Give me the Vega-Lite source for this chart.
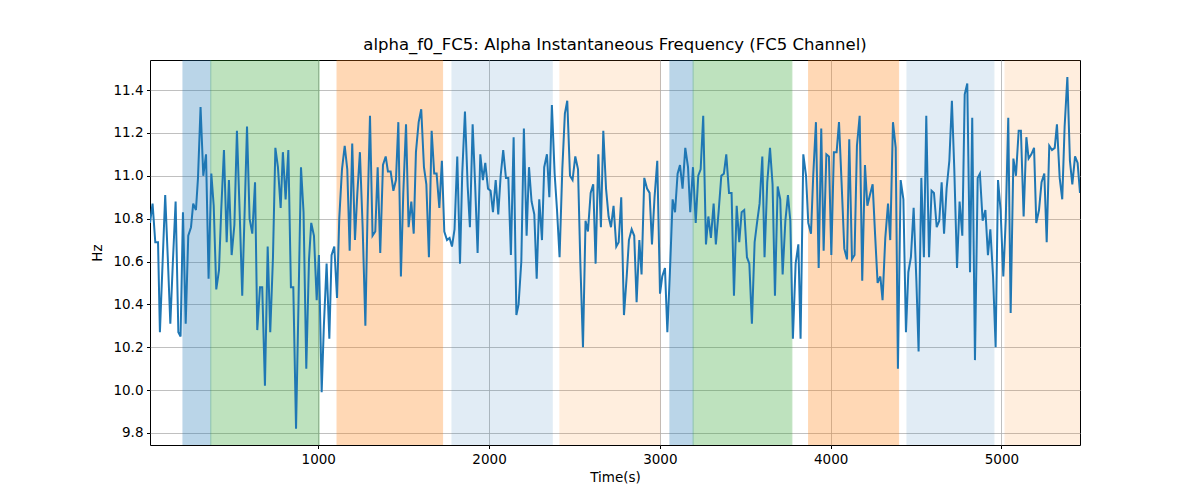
{
  "$schema": "https://vega.github.io/schema/vega-lite/v6.json",
  "autosize": {"type": "none"},
  "width": 930,
  "height": 385,
  "padding": {"left": 150, "top": 60, "right": 120, "bottom": 55},
  "background": "white",
  "title": {
    "text": "alpha_f0_FC5: Alpha Instantaneous Frequency (FC5 Channel)",
    "font": "DejaVu Sans",
    "fontSize": 16.5,
    "fontWeight": "normal",
    "color": "black",
    "anchor": "middle",
    "offset": 7
  },
  "config": {
    "view": {"stroke": "black", "strokeWidth": 1},
    "axis": {
      "domain": false,
      "labelFont": "DejaVu Sans",
      "labelFontSize": 13.5,
      "labelColor": "black",
      "titleFont": "DejaVu Sans",
      "titleFontSize": 13.5,
      "titleFontWeight": "normal",
      "titleColor": "black",
      "tickColor": "black",
      "tickSize": 3.5,
      "labelPadding": 3.5,
      "grid": true,
      "gridColor": "#b0b0b0",
      "gridWidth": 0.8
    }
  },
  "datasets": {
    "bands": [
      {"start": 208, "end": 371, "phase": "a"},
      {"start": 371, "end": 1006, "phase": "b"},
      {"start": 1110, "end": 1728, "phase": "c"},
      {"start": 1783, "end": 2370, "phase": "d"},
      {"start": 2415, "end": 3001, "phase": "e"},
      {"start": 3059, "end": 3195, "phase": "a"},
      {"start": 3195, "end": 3773, "phase": "b"},
      {"start": 3871, "end": 4398, "phase": "c"},
      {"start": 4447, "end": 4956, "phase": "d"},
      {"start": 5021, "end": 5460, "phase": "e"}
    ],
    "series": [
      {"t": 15, "hz": 10.78}, {"t": 30, "hz": 10.87}, {"t": 46, "hz": 10.69}, {"t": 62, "hz": 10.69},
      {"t": 73, "hz": 10.27}, {"t": 89, "hz": 10.60}, {"t": 104, "hz": 10.91}, {"t": 120, "hz": 10.60},
      {"t": 134, "hz": 10.31}, {"t": 149, "hz": 10.60}, {"t": 165, "hz": 10.88}, {"t": 181, "hz": 10.27},
      {"t": 194, "hz": 10.25}, {"t": 208, "hz": 10.83}, {"t": 224, "hz": 10.31}, {"t": 239, "hz": 10.72},
      {"t": 255, "hz": 10.76}, {"t": 268, "hz": 10.87}, {"t": 284, "hz": 10.84}, {"t": 296, "hz": 10.99},
      {"t": 311, "hz": 11.32}, {"t": 327, "hz": 11.00}, {"t": 343, "hz": 11.10}, {"t": 358, "hz": 10.52},
      {"t": 374, "hz": 11.01}, {"t": 388, "hz": 10.86}, {"t": 403, "hz": 10.47}, {"t": 419, "hz": 10.56},
      {"t": 432, "hz": 10.84}, {"t": 448, "hz": 11.12}, {"t": 464, "hz": 10.69}, {"t": 477, "hz": 10.98},
      {"t": 493, "hz": 10.63}, {"t": 509, "hz": 10.77}, {"t": 524, "hz": 11.21}, {"t": 540, "hz": 10.83},
      {"t": 555, "hz": 10.44}, {"t": 569, "hz": 10.83}, {"t": 583, "hz": 11.23}, {"t": 598, "hz": 10.80},
      {"t": 614, "hz": 10.73}, {"t": 630, "hz": 10.97}, {"t": 643, "hz": 10.28}, {"t": 659, "hz": 10.48},
      {"t": 672, "hz": 10.48}, {"t": 688, "hz": 10.02}, {"t": 704, "hz": 10.67}, {"t": 719, "hz": 10.27},
      {"t": 735, "hz": 10.62}, {"t": 749, "hz": 11.13}, {"t": 764, "hz": 11.04}, {"t": 780, "hz": 10.85},
      {"t": 793, "hz": 11.11}, {"t": 809, "hz": 10.89}, {"t": 825, "hz": 11.12}, {"t": 840, "hz": 10.48},
      {"t": 854, "hz": 10.48}, {"t": 870, "hz": 9.82}, {"t": 885, "hz": 10.43}, {"t": 899, "hz": 11.04},
      {"t": 914, "hz": 10.83}, {"t": 930, "hz": 10.10}, {"t": 946, "hz": 10.61}, {"t": 959, "hz": 10.78},
      {"t": 975, "hz": 10.72}, {"t": 991, "hz": 10.42}, {"t": 1004, "hz": 10.63}, {"t": 1020, "hz": 9.99},
      {"t": 1033, "hz": 10.30}, {"t": 1049, "hz": 10.59}, {"t": 1065, "hz": 10.24}, {"t": 1078, "hz": 10.63},
      {"t": 1094, "hz": 10.67}, {"t": 1110, "hz": 10.43}, {"t": 1123, "hz": 10.80}, {"t": 1139, "hz": 11.03},
      {"t": 1155, "hz": 11.14}, {"t": 1170, "hz": 11.03}, {"t": 1184, "hz": 10.65}, {"t": 1199, "hz": 11.15},
      {"t": 1215, "hz": 10.70}, {"t": 1229, "hz": 10.92}, {"t": 1244, "hz": 11.11}, {"t": 1260, "hz": 10.76},
      {"t": 1276, "hz": 10.30}, {"t": 1289, "hz": 10.84}, {"t": 1303, "hz": 11.28}, {"t": 1318, "hz": 10.72},
      {"t": 1334, "hz": 10.74}, {"t": 1348, "hz": 11.04}, {"t": 1363, "hz": 10.64}, {"t": 1379, "hz": 11.05},
      {"t": 1395, "hz": 11.09}, {"t": 1408, "hz": 11.02}, {"t": 1424, "hz": 11.02}, {"t": 1440, "hz": 10.93},
      {"t": 1455, "hz": 10.98}, {"t": 1469, "hz": 11.25}, {"t": 1484, "hz": 10.53}, {"t": 1498, "hz": 10.92},
      {"t": 1514, "hz": 11.24}, {"t": 1529, "hz": 10.76}, {"t": 1545, "hz": 10.88}, {"t": 1559, "hz": 10.73},
      {"t": 1572, "hz": 11.11}, {"t": 1588, "hz": 11.25}, {"t": 1603, "hz": 11.31}, {"t": 1619, "hz": 11.04},
      {"t": 1633, "hz": 10.96}, {"t": 1648, "hz": 10.62}, {"t": 1664, "hz": 11.21}, {"t": 1679, "hz": 11.01},
      {"t": 1693, "hz": 11.01}, {"t": 1709, "hz": 10.85}, {"t": 1724, "hz": 11.07}, {"t": 1738, "hz": 10.74},
      {"t": 1754, "hz": 10.70}, {"t": 1769, "hz": 10.71}, {"t": 1783, "hz": 10.67}, {"t": 1798, "hz": 10.75},
      {"t": 1814, "hz": 11.09}, {"t": 1830, "hz": 10.59}, {"t": 1843, "hz": 11.01}, {"t": 1859, "hz": 11.30},
      {"t": 1875, "hz": 10.95}, {"t": 1888, "hz": 10.76}, {"t": 1904, "hz": 11.24}, {"t": 1919, "hz": 10.95},
      {"t": 1933, "hz": 10.64}, {"t": 1949, "hz": 11.10}, {"t": 1964, "hz": 10.98}, {"t": 1978, "hz": 11.06},
      {"t": 1994, "hz": 10.94}, {"t": 2009, "hz": 10.93}, {"t": 2023, "hz": 10.83}, {"t": 2039, "hz": 10.98},
      {"t": 2054, "hz": 10.82}, {"t": 2068, "hz": 11.00}, {"t": 2083, "hz": 11.12}, {"t": 2099, "hz": 10.99},
      {"t": 2113, "hz": 10.99}, {"t": 2128, "hz": 10.63}, {"t": 2144, "hz": 11.18}, {"t": 2160, "hz": 10.35},
      {"t": 2173, "hz": 10.40}, {"t": 2189, "hz": 10.60}, {"t": 2204, "hz": 11.22}, {"t": 2220, "hz": 10.72},
      {"t": 2234, "hz": 11.04}, {"t": 2249, "hz": 10.88}, {"t": 2265, "hz": 10.82}, {"t": 2279, "hz": 10.52},
      {"t": 2294, "hz": 10.89}, {"t": 2310, "hz": 10.70}, {"t": 2323, "hz": 11.04}, {"t": 2339, "hz": 11.10},
      {"t": 2353, "hz": 10.90}, {"t": 2368, "hz": 11.33}, {"t": 2384, "hz": 11.01}, {"t": 2398, "hz": 10.84},
      {"t": 2413, "hz": 10.62}, {"t": 2429, "hz": 11.03}, {"t": 2444, "hz": 11.29}, {"t": 2458, "hz": 11.35},
      {"t": 2474, "hz": 11.00}, {"t": 2489, "hz": 10.98}, {"t": 2505, "hz": 11.09}, {"t": 2521, "hz": 11.03},
      {"t": 2534, "hz": 10.61}, {"t": 2550, "hz": 10.20}, {"t": 2565, "hz": 10.79}, {"t": 2579, "hz": 10.74},
      {"t": 2595, "hz": 10.92}, {"t": 2610, "hz": 10.96}, {"t": 2624, "hz": 10.59}, {"t": 2640, "hz": 11.10},
      {"t": 2655, "hz": 10.76}, {"t": 2669, "hz": 11.21}, {"t": 2685, "hz": 10.94}, {"t": 2700, "hz": 10.81},
      {"t": 2714, "hz": 10.76}, {"t": 2729, "hz": 10.86}, {"t": 2745, "hz": 10.67}, {"t": 2759, "hz": 10.69},
      {"t": 2774, "hz": 10.90}, {"t": 2790, "hz": 10.35}, {"t": 2806, "hz": 10.53}, {"t": 2819, "hz": 10.70},
      {"t": 2835, "hz": 10.75}, {"t": 2850, "hz": 10.72}, {"t": 2864, "hz": 10.41}, {"t": 2880, "hz": 10.70},
      {"t": 2893, "hz": 10.54}, {"t": 2909, "hz": 10.99}, {"t": 2925, "hz": 10.94}, {"t": 2940, "hz": 10.92},
      {"t": 2954, "hz": 10.68}, {"t": 2969, "hz": 10.90}, {"t": 2985, "hz": 11.07}, {"t": 3001, "hz": 10.45},
      {"t": 3014, "hz": 10.53}, {"t": 3030, "hz": 10.57}, {"t": 3044, "hz": 10.27}, {"t": 3059, "hz": 10.55},
      {"t": 3075, "hz": 10.89}, {"t": 3089, "hz": 10.83}, {"t": 3104, "hz": 11.01}, {"t": 3118, "hz": 11.05},
      {"t": 3133, "hz": 10.94}, {"t": 3149, "hz": 11.13}, {"t": 3165, "hz": 11.04}, {"t": 3178, "hz": 10.83},
      {"t": 3194, "hz": 11.04}, {"t": 3210, "hz": 10.78}, {"t": 3225, "hz": 11.00}, {"t": 3239, "hz": 11.03},
      {"t": 3254, "hz": 11.28}, {"t": 3270, "hz": 10.68}, {"t": 3284, "hz": 10.81}, {"t": 3299, "hz": 10.71},
      {"t": 3315, "hz": 10.87}, {"t": 3328, "hz": 10.68}, {"t": 3344, "hz": 10.83}, {"t": 3360, "hz": 11.00},
      {"t": 3375, "hz": 11.01}, {"t": 3389, "hz": 11.10}, {"t": 3405, "hz": 10.92}, {"t": 3420, "hz": 10.92},
      {"t": 3434, "hz": 10.44}, {"t": 3450, "hz": 10.86}, {"t": 3465, "hz": 10.69}, {"t": 3479, "hz": 10.83},
      {"t": 3494, "hz": 10.84}, {"t": 3510, "hz": 10.62}, {"t": 3524, "hz": 10.59}, {"t": 3539, "hz": 10.31},
      {"t": 3555, "hz": 10.69}, {"t": 3569, "hz": 10.78}, {"t": 3584, "hz": 10.87}, {"t": 3600, "hz": 11.09},
      {"t": 3613, "hz": 10.62}, {"t": 3629, "hz": 10.97}, {"t": 3645, "hz": 11.13}, {"t": 3660, "hz": 10.96},
      {"t": 3674, "hz": 10.44}, {"t": 3690, "hz": 10.95}, {"t": 3705, "hz": 10.89}, {"t": 3719, "hz": 10.54},
      {"t": 3735, "hz": 10.79}, {"t": 3750, "hz": 10.91}, {"t": 3764, "hz": 10.79}, {"t": 3779, "hz": 10.24},
      {"t": 3795, "hz": 10.59}, {"t": 3811, "hz": 10.68}, {"t": 3824, "hz": 10.24}, {"t": 3840, "hz": 11.10},
      {"t": 3856, "hz": 11.00}, {"t": 3869, "hz": 10.78}, {"t": 3885, "hz": 10.73}, {"t": 3898, "hz": 11.00},
      {"t": 3914, "hz": 11.25}, {"t": 3930, "hz": 10.57}, {"t": 3945, "hz": 11.22}, {"t": 3959, "hz": 10.65},
      {"t": 3975, "hz": 11.10}, {"t": 3990, "hz": 11.09}, {"t": 4004, "hz": 10.63}, {"t": 4019, "hz": 11.11},
      {"t": 4035, "hz": 11.11}, {"t": 4049, "hz": 11.25}, {"t": 4064, "hz": 10.97}, {"t": 4080, "hz": 10.66},
      {"t": 4096, "hz": 10.61}, {"t": 4109, "hz": 11.17}, {"t": 4125, "hz": 10.61}, {"t": 4140, "hz": 10.63},
      {"t": 4154, "hz": 11.14}, {"t": 4170, "hz": 11.28}, {"t": 4185, "hz": 10.51}, {"t": 4201, "hz": 11.05},
      {"t": 4215, "hz": 10.86}, {"t": 4230, "hz": 10.91}, {"t": 4246, "hz": 10.96}, {"t": 4260, "hz": 10.73},
      {"t": 4275, "hz": 10.50}, {"t": 4291, "hz": 10.53}, {"t": 4304, "hz": 10.42}, {"t": 4320, "hz": 10.71},
      {"t": 4336, "hz": 10.87}, {"t": 4349, "hz": 10.70}, {"t": 4365, "hz": 11.25}, {"t": 4381, "hz": 11.13},
      {"t": 4394, "hz": 10.10}, {"t": 4410, "hz": 10.98}, {"t": 4426, "hz": 10.89}, {"t": 4441, "hz": 10.27},
      {"t": 4455, "hz": 10.55}, {"t": 4470, "hz": 10.62}, {"t": 4486, "hz": 10.85}, {"t": 4502, "hz": 10.51},
      {"t": 4515, "hz": 10.18}, {"t": 4531, "hz": 10.99}, {"t": 4546, "hz": 10.62}, {"t": 4560, "hz": 11.28},
      {"t": 4576, "hz": 10.62}, {"t": 4591, "hz": 10.93}, {"t": 4605, "hz": 10.92}, {"t": 4621, "hz": 10.76},
      {"t": 4636, "hz": 10.79}, {"t": 4650, "hz": 10.97}, {"t": 4664, "hz": 10.73}, {"t": 4679, "hz": 10.94},
      {"t": 4695, "hz": 11.07}, {"t": 4710, "hz": 11.35}, {"t": 4724, "hz": 11.03}, {"t": 4740, "hz": 10.57},
      {"t": 4755, "hz": 10.88}, {"t": 4771, "hz": 10.72}, {"t": 4785, "hz": 11.38}, {"t": 4800, "hz": 11.43},
      {"t": 4816, "hz": 10.55}, {"t": 4829, "hz": 11.27}, {"t": 4845, "hz": 10.14}, {"t": 4861, "hz": 10.99},
      {"t": 4874, "hz": 11.01}, {"t": 4890, "hz": 10.79}, {"t": 4906, "hz": 10.84}, {"t": 4921, "hz": 10.63},
      {"t": 4935, "hz": 10.75}, {"t": 4951, "hz": 10.53}, {"t": 4966, "hz": 10.20}, {"t": 4980, "hz": 10.98},
      {"t": 4995, "hz": 10.84}, {"t": 5011, "hz": 10.53}, {"t": 5025, "hz": 10.79}, {"t": 5040, "hz": 11.27},
      {"t": 5054, "hz": 10.36}, {"t": 5070, "hz": 11.08}, {"t": 5085, "hz": 11.00}, {"t": 5101, "hz": 11.21},
      {"t": 5114, "hz": 11.21}, {"t": 5130, "hz": 10.81}, {"t": 5146, "hz": 11.18}, {"t": 5159, "hz": 11.08},
      {"t": 5175, "hz": 11.10}, {"t": 5191, "hz": 11.13}, {"t": 5204, "hz": 10.78}, {"t": 5220, "hz": 10.84},
      {"t": 5235, "hz": 10.97}, {"t": 5251, "hz": 11.01}, {"t": 5265, "hz": 10.69}, {"t": 5280, "hz": 11.14},
      {"t": 5296, "hz": 11.12}, {"t": 5312, "hz": 11.13}, {"t": 5325, "hz": 11.24}, {"t": 5341, "hz": 10.99},
      {"t": 5356, "hz": 10.89}, {"t": 5370, "hz": 11.23}, {"t": 5386, "hz": 11.46}, {"t": 5401, "hz": 11.07},
      {"t": 5415, "hz": 10.96}, {"t": 5431, "hz": 11.09}, {"t": 5446, "hz": 11.06}, {"t": 5460, "hz": 10.92}
    ]
  },
  "layer": [
    {
      "data": {"name": "bands"},
      "transform": [{"filter": "datum.phase === 'a' || datum.phase === 'b' || datum.phase === 'c'"}],
      "mark": {"type": "rect", "clip": true, "strokeWidth": 1, "opacity": 0.3},
      "encoding": {
        "x": {
          "field": "start",
          "type": "quantitative",
          "scale": {"domain": [15, 5460], "nice": false, "zero": false},
          "axis": {"values": [1000, 2000, 3000, 4000, 5000], "format": "d", "title": "Time(s)", "titlePadding": 5}
        },
        "x2": {"field": "end"},
        "fill": {
          "field": "phase",
          "type": "nominal",
          "scale": {"domain": ["a", "b", "c", "d", "e"], "range": ["#1f77b4", "#2ca02c", "#ff7f0e", "#1f77b4", "#ff7f0e"]},
          "legend": null
        },
        "stroke": {
          "field": "phase",
          "type": "nominal",
          "scale": {"domain": ["a", "b", "c", "d", "e"], "range": ["#1f77b4", "#2ca02c", "#ff7f0e", "#1f77b4", "#ff7f0e"]},
          "legend": null
        }
      }
    },
    {
      "data": {"name": "bands"},
      "transform": [{"filter": "datum.phase === 'd' || datum.phase === 'e'"}],
      "mark": {"type": "rect", "clip": true, "strokeWidth": 1, "opacity": 0.13},
      "encoding": {
        "x": {"field": "start", "type": "quantitative"},
        "x2": {"field": "end"},
        "fill": {"field": "phase", "type": "nominal", "legend": null},
        "stroke": {"field": "phase", "type": "nominal", "legend": null}
      }
    },
    {
      "data": {"name": "series"},
      "mark": {"type": "line", "color": "#1f77b4", "strokeWidth": 2, "clip": true},
      "encoding": {
        "x": {"field": "t", "type": "quantitative"},
        "y": {
          "field": "hz",
          "type": "quantitative",
          "scale": {"domain": [9.744, 11.54], "nice": false, "zero": false},
          "axis": {"values": [9.8, 10.0, 10.2, 10.4, 10.6, 10.8, 11.0, 11.2, 11.4], "format": ".1f", "title": "Hz", "titlePadding": 8}
        }
      }
    }
  ]
}
